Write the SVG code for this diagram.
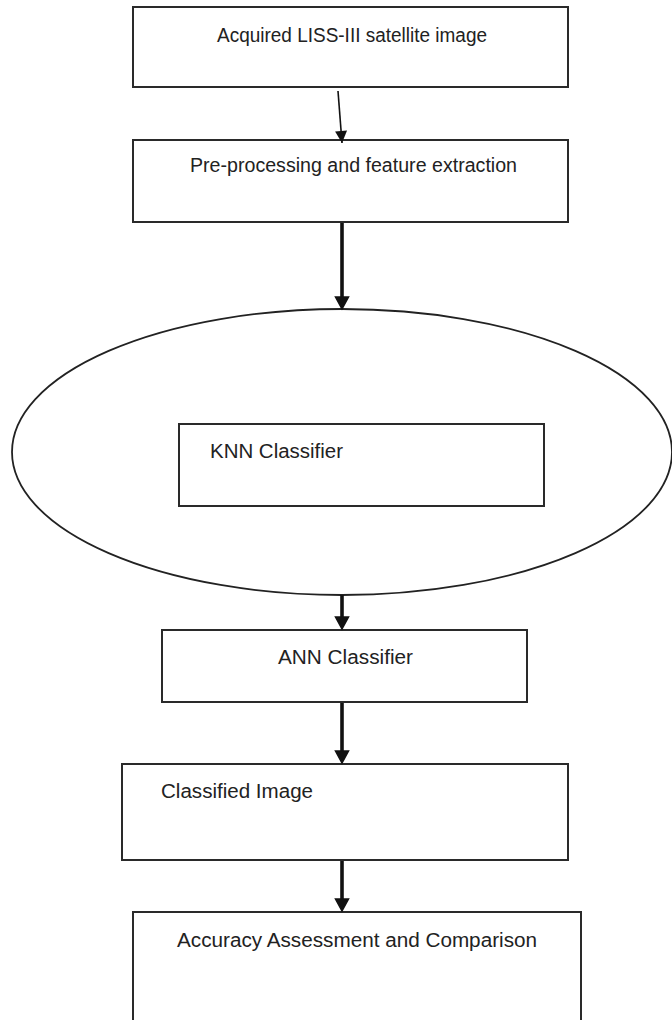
<svg xmlns="http://www.w3.org/2000/svg" width="672" height="1020" viewBox="0 0 672 1020">
<style>
  .box { fill: #fff; stroke: #2a2a2a; stroke-width: 2; }
  .ell { fill: #fff; stroke: #222; stroke-width: 1.8; }
  .lbl { font-family: "Liberation Sans", Arial, sans-serif; font-size: 20px; fill: #222; }
  .thin { stroke: #111; stroke-width: 1.6; fill: none; }
  .thick { stroke: #111; stroke-width: 3.6; fill: none; }
  .head { fill: #111; stroke: #111; stroke-width: 1.5; stroke-linejoin: miter; }
</style>
<defs>
  <marker id="thinHead" markerUnits="userSpaceOnUse" markerWidth="14" markerHeight="14" viewBox="0 0 14 14" refX="13" refY="7" orient="auto">
    <path d="M1,1 L13,7 L1,13 z" fill="#111"/>
  </marker>
</defs>
<rect width="672" height="1020" fill="#fff"/>

<g id="node-acquired">
  <rect class="box" x="133" y="7" width="435" height="80"/>
  <text class="lbl" x="217" y="42" textLength="270" lengthAdjust="spacingAndGlyphs">Acquired LISS-III satellite image</text>
</g>

<g id="node-preprocessing">
  <rect class="box" x="133" y="140" width="435" height="82"/>
  <text class="lbl" x="190" y="172" textLength="327" lengthAdjust="spacingAndGlyphs">Pre-processing and feature extraction</text>
</g>

<g id="node-ensemble">
  <ellipse class="ell" cx="342" cy="452" rx="330" ry="143"/>
</g>

<g id="node-knn">
  <rect class="box" x="179" y="424" width="365" height="82"/>
  <text class="lbl" x="210" y="458" textLength="133" lengthAdjust="spacingAndGlyphs">KNN Classifier</text>
</g>

<g id="node-ann">
  <rect class="box" x="162" y="630" width="365" height="72"/>
  <text class="lbl" x="278" y="664" textLength="135" lengthAdjust="spacingAndGlyphs">ANN Classifier</text>
</g>

<g id="node-classified">
  <rect class="box" x="122" y="764" width="446" height="96"/>
  <text class="lbl" x="161" y="798" textLength="152" lengthAdjust="spacingAndGlyphs">Classified Image</text>
</g>

<g id="node-accuracy">
  <rect class="box" x="133" y="912" width="448" height="130"/>
  <text class="lbl" x="177" y="947" textLength="360" lengthAdjust="spacingAndGlyphs">Accuracy Assessment and Comparison</text>
</g>

<g id="connectors">
  <line class="thin" x1="338" y1="91" x2="342" y2="143" marker-end="url(#thinHead)"/>

  <line class="thick" x1="342" y1="223" x2="342" y2="298"/>
  <polygon class="head" points="335.5,297 348.5,297 342,309"/>

  <line class="thick" x1="342" y1="595" x2="342" y2="618"/>
  <polygon class="head" points="335.5,617 348.5,617 342,629"/>

  <line class="thick" x1="342" y1="703" x2="342" y2="752"/>
  <polygon class="head" points="335.5,751 348.5,751 342,763"/>

  <line class="thick" x1="342" y1="861" x2="342" y2="900"/>
  <polygon class="head" points="335.5,899 348.5,899 342,911"/>
</g>
</svg>
